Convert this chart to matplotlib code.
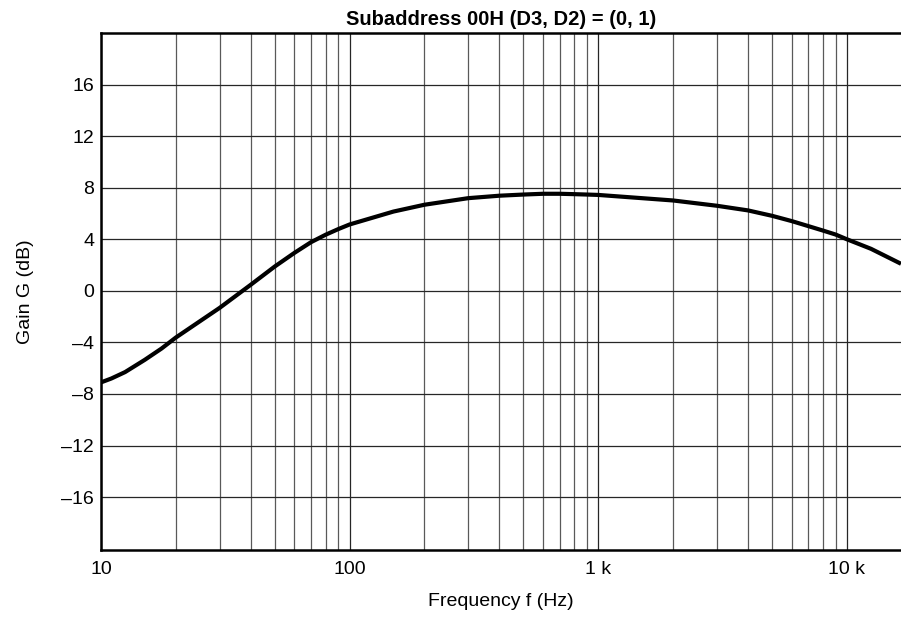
import matplotlib.pyplot as plt
from matplotlib.ticker import FixedLocator, NullFormatter

plt.rcParams['font.family'] = ['Liberation Sans', 'DejaVu Sans']

# Gain curve
freq = [10, 11, 12.5, 15, 17.5, 20, 30, 40, 50, 60, 70, 80, 90, 100, 150,
        200, 300, 400, 500, 600, 700, 800, 900, 1000,
        2000, 3000, 4000, 5000, 6000, 7000, 8000, 9000, 10000, 12500, 16500]
gain = [-7.1, -6.8, -6.3, -5.35, -4.48, -3.62, -1.32, 0.47, 1.89, 2.95, 3.78, 4.35, 4.79, 5.15, 6.15,
        6.68, 7.19, 7.38, 7.47, 7.53, 7.53, 7.5, 7.47, 7.44,
        7.01, 6.6, 6.24, 5.82, 5.41, 5.02, 4.68, 4.37, 4.0, 3.26, 2.1]

xticks = [10, 100, 1000, 10000]
xticklabels = ['10', '100', '1 k', '10 k']
yticks = [-16, -12, -8, -4, 0, 4, 8, 12, 16]
yticklabels = ['–16', '–12', '–8', '–4', '0', '4', '8', '12', '16']

fig = plt.figure(figsize=(9.01, 6.25), dpi=100)
ax = fig.add_axes([101/901, 1 - 550/625, 1 - 101/901, (550 - 33)/625])

ax.plot(freq, gain, color='black', lw=3, solid_capstyle='butt', solid_joinstyle='round')

ax.set_xscale('log')
ax.set_xlim(10, 16500)
ax.set_ylim(-20.1, 20)

ax.xaxis.set_major_locator(FixedLocator(xticks))
ax.set_xticklabels(xticklabels)
minor = [m * d for d in (10, 100, 1000) for m in range(2, 10)]
ax.xaxis.set_minor_locator(FixedLocator(minor))
ax.xaxis.set_minor_formatter(NullFormatter())
ax.set_yticks(yticks)
ax.set_yticklabels(yticklabels)

ax.grid(True, which='major', color='0.15', lw=0.9)
ax.grid(True, which='minor', axis='x', color='0.35', lw=0.9)
ax.tick_params(which='both', length=0, labelsize=14)
ax.tick_params(axis='x', pad=8)
ax.tick_params(axis='y', pad=5)

for s in ['left', 'bottom', 'top']:
    ax.spines[s].set_linewidth(1.8)
ax.spines['right'].set_visible(False)

ax.set_title('Subaddress 00H (D3, D2) = (0, 1)', fontsize=14.5, fontweight='bold', pad=6)
ax.set_xlabel('Frequency f (Hz)', fontsize=14, labelpad=11)
ax.set_ylabel('Gain G (dB)', fontsize=14, labelpad=20)

fig.savefig('out.png', dpi=100)
